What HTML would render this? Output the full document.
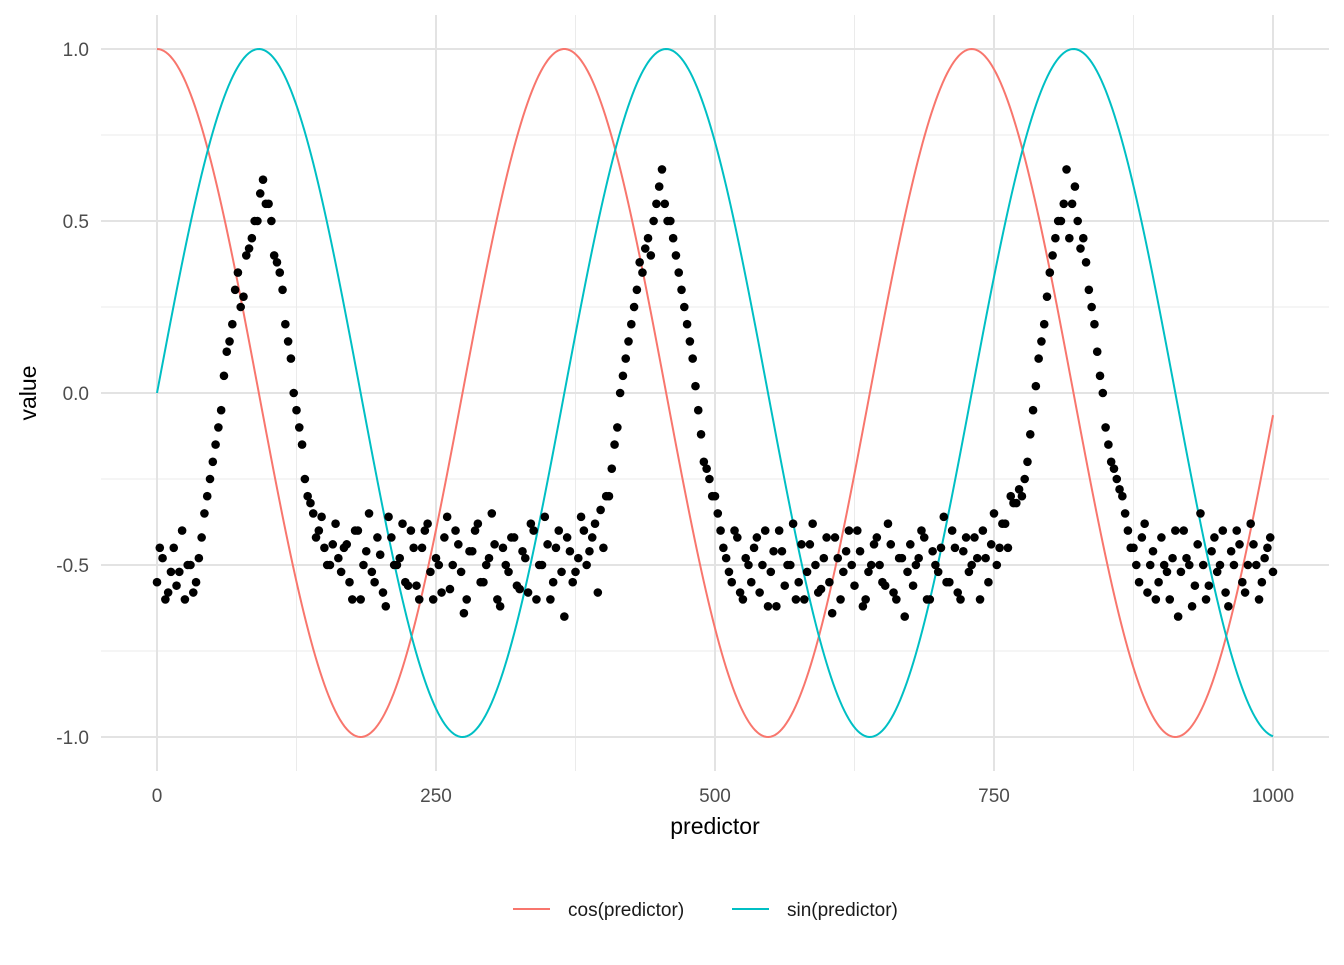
<!DOCTYPE html>
<html><head><meta charset="utf-8">
<style>
body{margin:0;background:#fff;font-family:"Liberation Sans",Arial,sans-serif;}
svg text{font-family:"Liberation Sans",Arial,sans-serif;}
</style></head>
<body>
<svg id="chart" width="1344" height="960">
  <g id="grid"></g>
  <g id="lines"></g>
  <g id="points"></g>
  <g id="axes"></g>
  <text x="715" y="834" font-size="23" text-anchor="middle" fill="#000">predictor</text>
  <text transform="translate(36,393) rotate(-90)" font-size="23" text-anchor="middle" fill="#000">value</text>
  <g>
    <g>
      <line x1="513" y1="909" x2="550" y2="909" stroke="#F8766D" stroke-width="2"/>
      <text x="568" y="916" font-size="19" fill="#1a1a1a">cos(predictor)</text>
    </g>
    <g>
      <line x1="732" y1="909" x2="769" y2="909" stroke="#00BFC4" stroke-width="2"/>
      <text x="787" y="916" font-size="19" fill="#1a1a1a">sin(predictor)</text>
    </g>
  </g>
</svg>
<script>
const xTicks=[0,250,500,750,1000];
const xTickLabels=["0","250","500","750","1000"];
const yTicks=[-1,-0.5,0,0.5,1];
const yTickLabels=["-1.0","-0.5","0.0","0.5","1.0"];
const period=365;
const lineXs=[];for(let i=0;i<=1000;i+=2)lineXs.push(i);
const pointsA=[-0.55,-0.48,-0.58,-0.45,-0.52,-0.6,-0.5,-0.55,-0.42,
-0.3,-0.2,-0.1,0.05,
0.15,0.3,0.25,0.4,0.45,0.5,
0.62,0.55,0.4,0.35,0.2,0.1,-0.05,-0.15,
-0.3,-0.35,-0.4,-0.45,-0.5,-0.38,
-0.52,-0.44,-0.6,-0.4,-0.5,-0.35,-0.55,-0.47,-0.62,-0.42,-0.5,-0.38,-0.56,-0.45,-0.6,-0.4,-0.52,-0.48,-0.58,-0.36,-0.5,-0.44,-0.64,-0.46,-0.4,-0.55,-0.5,-0.35,-0.6,-0.45,-0.52,-0.42,-0.57,-0.48,-0.38,-0.6,-0.5,-0.44,-0.55,-0.4,-0.65,-0.46,-0.52,-0.36,-0.5,-0.42,-0.58,-0.45,
-0.3,-0.15,0.0,0.1,0.2,0.3,0.35,0.45,0.5,0.6,0.55,
0.5,0.4,0.3,0.2,0.1,-0.05,-0.2,-0.25,-0.3,
-0.4,-0.48,-0.55,-0.42,-0.6,-0.5,-0.45,-0.58,-0.4,-0.52,-0.62,-0.46,-0.5,-0.38,-0.55,-0.6,-0.44,-0.5,-0.57,-0.42,-0.64,-0.48,-0.52,-0.4,-0.56,-0.46,-0.6,-0.5,-0.42,-0.55,-0.38,-0.58,-0.48,-0.65,-0.44,-0.5,-0.4,-0.6,-0.46,-0.52,-0.36,-0.55,-0.45,-0.6,-0.42,-0.5,-0.48,-0.4,-0.55,-0.35,-0.45,-0.38,-0.3,-0.32,
-0.3,-0.2,-0.05,0.1,0.2,0.35,0.45,0.5,0.65,
0.55,0.5,0.45,0.3,0.2,0.05,-0.1,-0.2,-0.25,-0.3,-0.4,
-0.45,-0.55,-0.38,-0.5,-0.6,-0.42,-0.52,-0.48,-0.65,-0.4,-0.5,-0.56,-0.35,-0.6,-0.46,-0.52,-0.4,-0.62,-0.5,-0.44,-0.58,-0.38,-0.5,-0.55,-0.45,-0.52];
const pointsB=[-0.45,-0.6,-0.52,-0.56,-0.4,-0.5,-0.58,-0.48,-0.35,
-0.25,-0.15,-0.05,0.12,
0.2,0.35,0.28,0.42,0.5,0.58,
0.55,0.5,0.38,0.3,0.15,0.0,-0.1,-0.25,
-0.32,-0.42,-0.36,-0.5,-0.44,-0.48,
-0.45,-0.55,-0.4,-0.6,-0.46,-0.52,-0.42,-0.58,-0.36,-0.5,-0.48,-0.55,-0.4,-0.56,-0.45,-0.38,-0.6,-0.5,-0.42,-0.57,-0.4,-0.52,-0.6,-0.46,-0.38,-0.55,-0.48,-0.44,-0.62,-0.5,-0.42,-0.56,-0.46,-0.58,-0.4,-0.5,-0.36,-0.6,-0.45,-0.52,-0.42,-0.55,-0.48,-0.4,-0.46,-0.38,-0.34,-0.3,
-0.22,-0.1,0.05,0.15,0.25,0.38,0.42,0.4,0.55,0.65,0.5,
0.45,0.35,0.25,0.15,0.02,-0.12,-0.22,-0.3,-0.35,
-0.45,-0.52,-0.4,-0.58,-0.48,-0.55,-0.42,-0.5,-0.62,-0.46,-0.4,-0.56,-0.5,-0.6,-0.44,-0.52,-0.38,-0.58,-0.48,-0.55,-0.42,-0.6,-0.46,-0.5,-0.4,-0.62,-0.52,-0.44,-0.5,-0.56,-0.44,-0.6,-0.48,-0.52,-0.56,-0.48,-0.42,-0.6,-0.5,-0.45,-0.55,-0.4,-0.58,-0.46,-0.52,-0.42,-0.6,-0.48,-0.44,-0.5,-0.38,-0.45,-0.32,-0.28,
-0.25,-0.12,0.02,0.15,0.28,0.4,0.5,0.55,0.45,
0.6,0.42,0.38,0.25,0.12,0.0,-0.15,-0.22,-0.28,-0.35,-0.45,
-0.5,-0.42,-0.58,-0.46,-0.55,-0.5,-0.6,-0.4,-0.52,-0.48,-0.62,-0.44,-0.5,-0.56,-0.42,-0.5,-0.58,-0.46,-0.4,-0.55,-0.5,-0.44,-0.6,-0.48,-0.42,-0.5];
const NS='http://www.w3.org/2000/svg';
const X0=157,X1=1273,Y1=49,Ym1=737;
const sx=v=>X0+(v/1000)*(X1-X0);
const sy=v=>393-v*(393-Y1);
function mk(tag,attrs,parent){const e=document.createElementNS(NS,tag);for(const k in attrs)e.setAttribute(k,attrs[k]);parent.appendChild(e);return e;}
const grid=document.getElementById('grid'),axes=document.getElementById('axes');
[125,375,625,875].forEach(v=>{const l=mk('line',{x1:sx(v),x2:sx(v),y1:15,y2:771,stroke:'#ebebeb','stroke-width':1},grid);

});
[-0.75,-0.25,0.25,0.75].forEach(v=>{const l=mk('line',{x1:101,x2:1329,y1:sy(v),y2:sy(v),stroke:'#ebebeb','stroke-width':1},grid);

});
xTicks.forEach((v,i)=>{const l=mk('line',{x1:sx(v),x2:sx(v),y1:15,y2:771,stroke:'#e3e3e3','stroke-width':2},grid);


const t=mk('text',{x:sx(v),y:802,'font-size':19,'text-anchor':'middle',fill:'#4d4d4d'},axes);t.textContent=xTickLabels[i];

});
yTicks.forEach((v,i)=>{const l=mk('line',{x1:101,x2:1329,y1:sy(v),y2:sy(v),stroke:'#e3e3e3','stroke-width':2},grid);


const t=mk('text',{x:89,y:sy(v)+7,'font-size':19,'text-anchor':'end',fill:'#4d4d4d'},axes);t.textContent=yTickLabels[i];

});
const pts=document.getElementById('points');
function drawPts(arr,off){arr.forEach((v,i)=>{const x=i*5+off;if(x>1000)return;const c=mk('circle',{cx:sx(x),cy:sy(v),r:4.3,fill:'#000'},pts);

});}
drawPts(pointsA,0);drawPts(pointsB,2.5);
const lines=document.getElementById('lines');
const cosD=lineXs.map(x=>(sx(x))+','+sy(Math.cos(2*Math.PI*x/period))).join(' ');
const sinD=lineXs.map(x=>(sx(x))+','+sy(Math.sin(2*Math.PI*x/period))).join(' ');
const cl=mk('polyline',{points:cosD,fill:'none',stroke:'#F8766D','stroke-width':2},lines);


const sl=mk('polyline',{points:sinD,fill:'none',stroke:'#00BFC4','stroke-width':2},lines);


</script>
</body></html>
